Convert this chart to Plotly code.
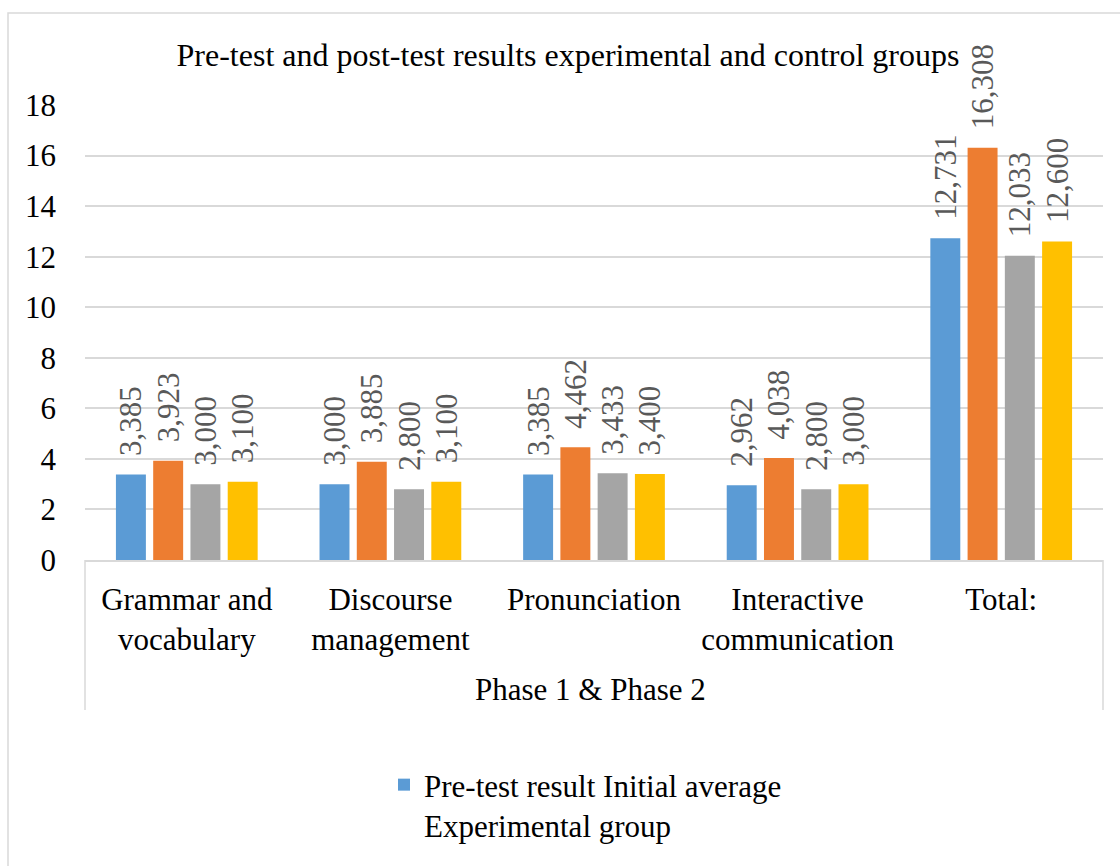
import plotly.graph_objects as go

# Skill areas (with line breaks as shown under the axis) and the grouping label
categories = [
    "Grammar and<br>vocabulary",
    "Discourse<br>management",
    "Pronunciation",
    "Interactive<br>communication",
    "Total:",
]
group_label = "Phase 1 & Phase 2"

# Average scores per skill area
pre_experimental = [3.385, 3.000, 3.385, 2.962, 12.731]
post_experimental = [3.923, 3.885, 4.462, 4.038, 16.308]
pre_control = [3.000, 2.800, 3.433, 2.800, 12.033]
post_control = [3.100, 3.100, 3.400, 3.000, 12.600]

series_names = [
    "Pre-test result Initial average<br>Experimental group",
    "Post-test result Final average<br>Experimental group",
    "Pre-test result Initial average<br>Control group",
    "Post-test result Final average<br>Control group",
]
series_values = [pre_experimental, post_experimental, pre_control, post_control]
series_colors = ["#5B9BD5", "#ED7D31", "#A5A5A5", "#FFC000"]

y_ticks = [0, 2, 4, 6, 8, 10, 12, 14, 16, 18]

FONT = "Liberation Serif, Times New Roman, serif"
GRID = "#D9D9D9"

# plot area in pixels (used to place the frame, group label and legend)
L, R, T, B = 85, 1103, 105, 560
H = B - T


def py(px):
    """Convert a pixel row to paper y."""
    return (B - px) / H


def px_x(px):
    """Convert a pixel column to paper x."""
    return (px - L) / (R - L)


def comma_decimal(v):
    # non-breaking spaces keep the value label clear of the bar top
    return "\u00a0\u00a0" + f"{v:.3f}".replace(".", ",")


fig = go.Figure()
for i, (name, vals, color) in enumerate(zip(series_names, series_values, series_colors)):
    fig.add_trace(
        go.Bar(
            x=categories,
            y=vals,
            name=name,
            marker=dict(color=color, line=dict(width=0)),
            text=[comma_decimal(v) for v in vals],
            textposition="outside",
            textangle=-90,
            constraintext="none",
            cliponaxis=False,
            outsidetextfont=dict(family=FONT, size=31, color="#595959"),
            showlegend=(i == 0),
            hoverinfo="skip",
        )
    )

fig.update_layout(
    width=1120,
    height=866,
    paper_bgcolor="white",
    plot_bgcolor="white",
    font=dict(family=FONT, size=31, color="black"),
    margin=dict(l=L, r=1120 - R, t=T, b=866 - B),
    barmode="group",
    bargap=0.268,
    bargroupgap=0.196,
    title=dict(
        text="Pre-test and post-test results experimental and control groups",
        font=dict(family=FONT, size=32, color="black"),
        x=568 / 1120,
        xref="container",
        xanchor="center",
        y=1 - 55 / 866,
        yref="container",
        yanchor="middle",
    ),
    yaxis=dict(
        range=[0, 18],
        tickvals=y_ticks,
        ticktext=[str(t) for t in y_ticks],
        showgrid=True,
        gridcolor=GRID,
        gridwidth=1.5,
        zeroline=False,
        showline=False,
        ticks="",
        ticklabelstandoff=28,
        tickfont=dict(family=FONT, size=31, color="black"),
    ),
    xaxis=dict(
        type="category",
        showline=True,
        linecolor=GRID,
        linewidth=1.5,
        ticks="",
        showgrid=False,
        ticklabelstandoff=11,
        tickfont=dict(family=FONT, size=31, color="black"),
    ),
    legend=dict(
        x=px_x(384),
        xanchor="left",
        y=py(758),
        yanchor="top",
        valign="top",
        font=dict(family=FONT, size=31, color="black"),
        bgcolor="rgba(0,0,0,0)",
    ),
    annotations=[
        dict(
            text=group_label,
            xref="paper",
            yref="paper",
            x=px_x(590),
            y=py(690),
            xanchor="center",
            yanchor="middle",
            showarrow=False,
            font=dict(family=FONT, size=31, color="black"),
        )
    ],
)

# side borders of the category-axis label box
for xpx in (L, R):
    fig.add_shape(
        type="line",
        xref="paper",
        yref="paper",
        x0=px_x(xpx),
        x1=px_x(xpx),
        y0=0,
        y1=py(710),
        line=dict(color=GRID, width=1.5),
    )

# Light frame around the whole chart
fig.add_shape(
    type="rect",
    xref="paper",
    yref="paper",
    x0=px_x(8),
    x1=1.2,
    y0=-1.2,
    y1=py(13),
    line=dict(color=GRID, width=1.5),
    fillcolor="rgba(0,0,0,0)",
    layer="below",
)

fig.write_html("out.html")
